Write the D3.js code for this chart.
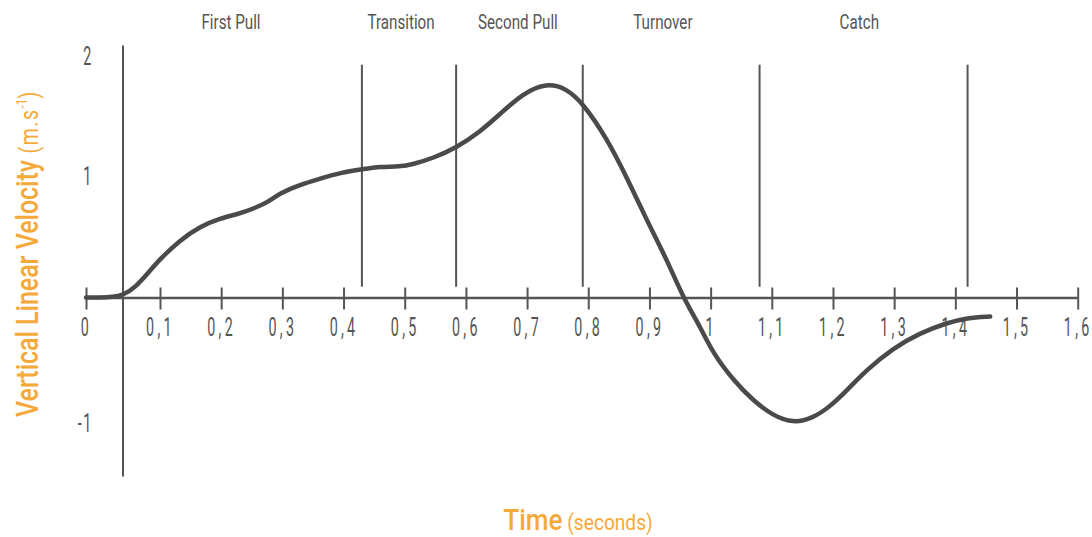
<!DOCTYPE html>
<html><head><meta charset="utf-8">
<script src="https://cdn.jsdelivr.net/npm/d3@7"></script>
<style>body{margin:0;background:#fff} svg{display:block}</style>
</head><body>
<svg id="c" width="1092" height="537"></svg>
<script>
// ---- data ----
const timeValues = [0, 0.019, 0.036, 0.050, 0.066, 0.086, 0.100, 0.133, 0.165, 0.198, 0.231, 0.252, 0.275, 0.296, 0.329, 0.362, 0.394, 0.432, 0.460, 0.492, 0.513, 0.546, 0.585, 0.623, 0.656, 0.693, 0.732, 0.765, 0.791, 0.830, 0.863, 0.896, 0.929, 0.955, 0.983, 1.004, 1.037, 1.069, 1.102, 1.135, 1.167, 1.195, 1.223, 1.255, 1.298, 1.342, 1.386, 1.419, 1.457];
const velocityValues = [0, 0, 0.004, 0.02, 0.08, 0.22, 0.32, 0.48, 0.59, 0.66, 0.70, 0.74, 0.79, 0.87, 0.94, 0.99, 1.04, 1.07, 1.09, 1.09, 1.11, 1.16, 1.25, 1.38, 1.53, 1.70, 1.79, 1.74, 1.62, 1.33, 1.00, 0.64, 0.31, 0.00, -0.23, -0.44, -0.65, -0.81, -0.93, -0.99, -0.95, -0.86, -0.73, -0.57, -0.40, -0.28, -0.20, -0.16, -0.15];
const xTickValues = [0, 0.1, 0.2, 0.3, 0.4, 0.5, 0.6, 0.7, 0.8, 0.9, 1.0, 1.1, 1.2, 1.3, 1.4, 1.5, 1.6];
const xTickLabels = ["0", "0,1", "0,2", "0,3", "0,4", "0,5", "0,6", "0,7", "0,8", "0,9", "1", "1,1", "1,2", "1,3", "1,4", "1,5", "1,6"];
const yTickValues = [2, 1, -1];
const yTickLabels = ["2", "1", "-1"];
const phaseNames = ["First Pull", "Transition", "Second Pull", "Turnover", "Catch"];
const phaseLabelTimes = [0.216, 0.494, 0.685, 0.922, 1.243];
const phaseBoundaryTimes = [0.43, 0.584, 0.791, 1.08, 1.42];
const phaseLineRange = [0.09, 1.94];
const phaseLabelLevel = 2.24;
const yAxisTime = 0.05;
const yAxisRange = [-1.41, 2.1];

// ---- scales ----
const x = d3.scaleLinear().domain([0, 0.1, 1.6]).range([86, 160, 1077.7]);
const y = d3.scaleLinear().domain([-1, 0, 2]).range([424.5, 297.5, 57.5]);

const svg = d3.select("#c");
const gray = "#555";
const curveColor = "#4a4a4a";
const orange = "#f6a93b";
const font = "Roboto, 'Liberation Sans', sans-serif";

// phase lines
svg.append("g").selectAll("line").data(phaseBoundaryTimes).join("line")
  .attr("x1", d => x(d)).attr("x2", d => x(d))
  .attr("y1", y(phaseLineRange[0])).attr("y2", y(phaseLineRange[1]))
  .attr("stroke", gray).attr("stroke-width", 2);

// phase labels
svg.append("g").selectAll("text").data(phaseNames).join("text")
  .attr("transform", (d, i) => `translate(${x(phaseLabelTimes[i])},${y(phaseLabelLevel)}) scale(0.76,1)`)
  .attr("text-anchor", "middle")
  .attr("font-family", font).attr("font-size", 20).attr("font-weight", 400)
  .attr("fill", gray).text(d => d);

// y axis line
svg.append("line")
  .attr("x1", x(yAxisTime)).attr("x2", x(yAxisTime))
  .attr("y1", y(yAxisRange[1])).attr("y2", y(yAxisRange[0]))
  .attr("stroke", gray).attr("stroke-width", 2);

// x axis
const xAxis = d3.axisBottom(x).tickValues(xTickValues).tickFormat((d, i) => xTickLabels[i]).tickSizeOuter(0);
const gx = svg.append("g").attr("transform", `translate(0,${y(0)})`).call(xAxis);
gx.select(".domain").attr("stroke", gray).attr("stroke-width", 2.5);
gx.selectAll(".tick line").attr("y1", -10).attr("y2", 12).attr("stroke", gray).attr("stroke-width", 2);
gx.selectAll(".tick text")
  .attr("y", null).attr("dy", null)
  .attr("transform", "translate(0,38.5) scale(0.55,1)")
  .attr("font-family", font).attr("font-size", 26)
  .attr("letter-spacing", 6)
  .attr("fill", gray);

// y tick labels
svg.append("g").selectAll("text").data(yTickValues).join("text")
  .attr("transform", d => `translate(93,${y(d) + 7}) scale(0.55,1)`)
  .attr("text-anchor", "end")
  .attr("font-family", font).attr("font-size", 26)
  .attr("letter-spacing", 3)
  .attr("fill", gray)
  .text((d, i) => yTickLabels[i]);

// curve
const line = d3.line().x(d => x(d[0])).y(d => y(d[1])).curve(d3.curveBasis);
svg.append("path")
  .datum(timeValues.map((t, i) => [t, velocityValues[i]]))
  .attr("d", line)
  .attr("fill", "none").attr("stroke", curveColor).attr("stroke-width", 4.5)
  .attr("stroke-linecap", "round");

// x title
const xt = svg.append("text")
  .attr("transform", "translate(578,530) scale(0.87,1)")
  .attr("text-anchor", "middle")
  .attr("font-family", font).attr("fill", orange);
xt.append("tspan").attr("font-size", 30).attr("font-weight", 500).text("Time");
xt.append("tspan").attr("font-size", 22).text(" (seconds)");

// y title
const yt = svg.append("text")
  .attr("transform", "translate(38,417) rotate(-90) scale(0.78,1)")
  .attr("text-anchor", "start")
  .attr("font-family", font).attr("fill", orange);
yt.append("tspan").attr("font-size", 32).attr("font-weight", 500).text("Vertical Linear Velocity");
yt.append("tspan").attr("font-size", 25).attr("letter-spacing", 2).text(" (m.s");
yt.append("tspan").attr("font-size", 15).attr("dy", -11).text("-1");
yt.append("tspan").attr("font-size", 25).attr("dy", 11).text(")");
</script>
</body></html>
